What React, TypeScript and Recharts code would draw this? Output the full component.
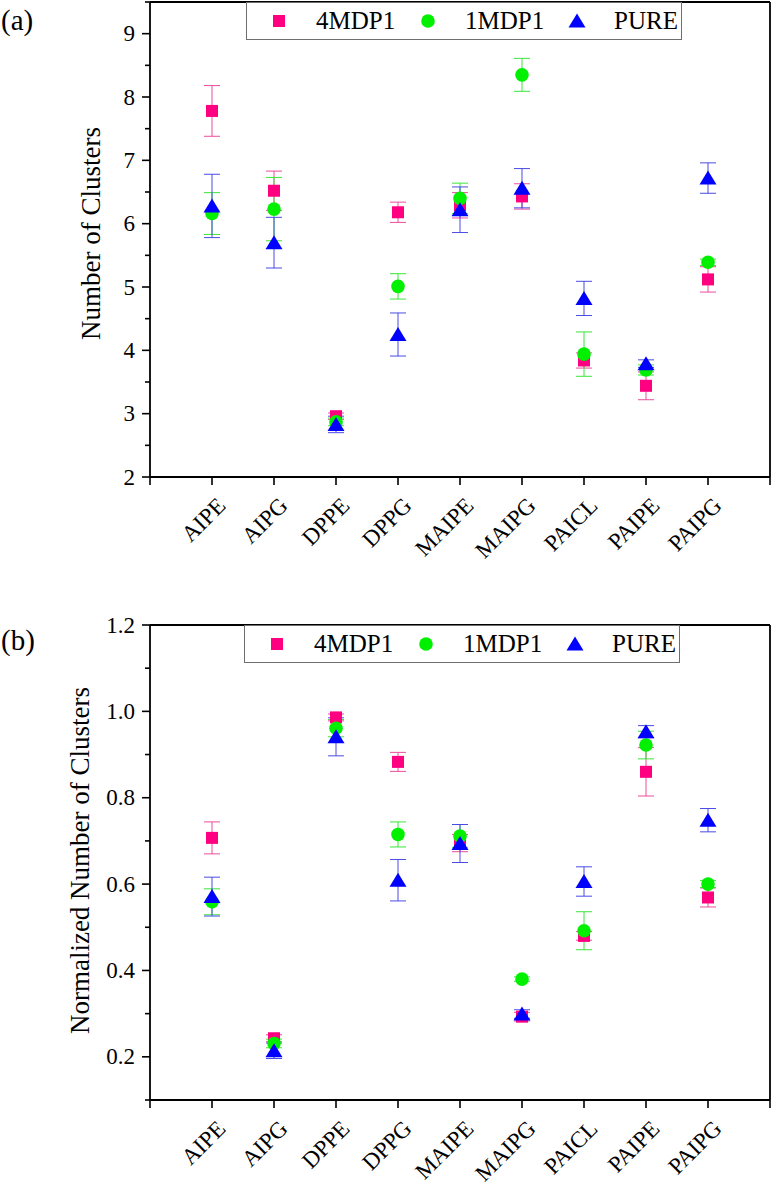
import React from 'react';
import {
  ScatterChart,
  Scatter,
  XAxis,
  YAxis,
  ErrorBar,
  ReferenceLine,
  Legend,
} from 'recharts';

const FONT = '"Liberation Serif", "Times New Roman", serif';

// Lipid systems along the x axis
const categories = ['AIPE', 'AIPG', 'DPPE', 'DPPG', 'MAIPE', 'MAIPG', 'PAICL', 'PAIPE', 'PAIPG'];
const xTicks = [0, 1, 2, 3, 4, 5, 6, 7, 8, 9, 10];

// Panel (a): number of clusters (mean and error)
const mdp4Counts = [7.78, 6.52, 2.96, 6.18, 6.29, 6.43, 3.84, 3.44, 5.12];
const mdp4CountErr = [0.4, 0.31, 0.05, 0.16, 0.2, 0.2, 0.12, 0.22, 0.2];
const mdp1Counts = [6.16, 6.23, 2.87, 5.01, 6.4, 8.35, 3.94, 3.69, 5.39];
const mdp1CountErr = [0.33, 0.5, 0.06, 0.2, 0.24, 0.26, 0.35, 0.08, 0.05];
const pureCounts = [6.28, 5.7, 2.83, 4.25, 6.22, 6.56, 4.82, 3.79, 6.72];
const pureCountErr = [0.5, 0.4, 0.13, 0.34, 0.36, 0.31, 0.27, 0.06, 0.24];
const countTicks = [2, 2.5, 3, 3.5, 4, 4.5, 5, 5.5, 6, 6.5, 7, 7.5, 8, 8.5, 9, 9.5];

// Panel (b): normalized number of clusters (mean and error)
const mdp4Norm = [0.707, 0.243, 0.986, 0.883, 0.695, 0.293, 0.48, 0.86, 0.569];
const mdp4NormErr = [0.037, 0.008, 0.008, 0.022, 0.02, 0.01, 0.01, 0.056, 0.022];
const mdp1Norm = [0.559, 0.231, 0.961, 0.715, 0.711, 0.38, 0.492, 0.922, 0.6];
const mdp1NormErr = [0.03, 0.01, 0.02, 0.029, 0.027, 0.005, 0.044, 0.032, 0.008];
const pureNorm = [0.571, 0.214, 0.941, 0.609, 0.694, 0.299, 0.606, 0.953, 0.748];
const pureNormErr = [0.045, 0.018, 0.044, 0.048, 0.044, 0.01, 0.034, 0.014, 0.027];
const normTicks = [0.1, 0.2, 0.3, 0.4, 0.5, 0.6, 0.7, 0.8, 0.9, 1.0, 1.1, 1.2];

const SERIES = [
  { name: '4MDP1', color: '#FF0080', errColor: '#EE4C9C', legendType: 'square' },
  { name: '1MDP1', color: '#00F000', errColor: '#3AE63A', legendType: 'circle' },
  { name: 'PURE', color: '#0000FF', errColor: '#4B4BE6', legendType: 'triangle' },
] as const;

const toRows = (values: number[], errs: number[]) =>
  categories.map((c, i) => ({ x: i + 1, y: values[i], err: errs[i], name: c }));

const drawMarker = (type: string, cx: number, cy: number, color: string) => {
  if (type === 'square') {
    return <rect x={cx - 6} y={cy - 6} width={12} height={12} fill={color} />;
  }
  if (type === 'circle') {
    return <circle cx={cx} cy={cy} r={6.8} fill={color} />;
  }
  return (
    <polygon
      points={`${cx},${cy - 7.5} ${cx + 8.5},${cy + 6.5} ${cx - 8.5},${cy + 6.5}`}
      fill={color}
    />
  );
};

const markerShape = (type: string, color: string) => (props: any) => {
  if (props.cx == null || props.cy == null) return <g />;
  return drawMarker(type, props.cx, props.cy, color);
};

// Legend keeps the series order 4MDP1, 1MDP1, PURE
const LegendBox = () => (
  <div
    style={{
      width: 436,
      height: 38,
      boxSizing: 'border-box',
      border: '1px solid #6E6E6E',
      background: '#fff',
      position: 'relative',
      fontFamily: FONT,
      fontSize: 25,
      color: '#000',
    }}
  >
    {SERIES.map((s, i) => (
      <div
        key={s.name}
        style={{
          position: 'absolute',
          left: i * 149,
          top: 0,
          height: 36,
          display: 'flex',
          alignItems: 'center',
          whiteSpace: 'nowrap',
        }}
      >
        <svg width={18} height={18} style={{ marginLeft: 23, display: 'block' }}>
          {drawMarker(s.legendType, 9, 9, s.color)}
        </svg>
        <span style={{ marginLeft: 28, lineHeight: '36px' }}>{s.name}</span>
      </div>
    ))}
  </div>
);

const XTick = (props: any) => {
  const { x, y, payload } = props;
  const name = categories[payload.value - 1];
  if (!name) return <g />;
  const ax = x + 15;
  const ay = y + 22;
  return (
    <text
      x={ax}
      y={ay}
      transform={`rotate(-45 ${ax} ${ay})`}
      textAnchor="end"
      fontSize={23}
      fontFamily={FONT}
      fill="#000"
    >
      {name}
    </text>
  );
};

const makeYTick = (isMajor: (v: number) => boolean, fmt: (v: number) => string) => (props: any) => {
  const { x, y, payload } = props;
  const axisX = x + 15;
  const major = isMajor(payload.value);
  const len = major ? 8 : 5;
  return (
    <g>
      <line x1={axisX - len} x2={axisX} y1={y} y2={y} stroke="#000" strokeWidth={1.6} />
      {major && (
        <text
          x={x}
          y={y}
          textAnchor="end"
          dominantBaseline="central"
          fontSize={23}
          fontFamily={FONT}
          fill="#000"
        >
          {fmt(payload.value)}
        </text>
      )}
    </g>
  );
};

const axisTitle = (text: string, shiftX: number, shiftY: number) => (props: any) => {
  const vb = props.viewBox || { x: 0, y: 0, width: 0, height: 0 };
  const cx = vb.x + shiftX;
  const cy = vb.y + vb.height / 2 + shiftY;
  return (
    <text
      x={cx}
      y={cy}
      transform={`rotate(-90 ${cx} ${cy})`}
      textAnchor="middle"
      dominantBaseline="central"
      fontSize={27}
      fontFamily={FONT}
      fill="#000"
    >
      {text}
    </text>
  );
};

type PanelProps = {
  height: number;
  margin: { top: number; right: number; bottom: number; left: number };
  domain: [number, number];
  ticks: number[];
  isMajor: (v: number) => boolean;
  fmt: (v: number) => string;
  title: string;
  titleShiftX: number;
  titleShiftY: number;
  series: { values: number[]; errs: number[] }[];
  legendTop: number;
  legendLeft: number;
};

const Panel = (p: PanelProps) => (
  <ScatterChart width={774} height={p.height} margin={p.margin} style={{ fontFamily: FONT }}>
    <XAxis
      type="number"
      dataKey="x"
      domain={[0, 10]}
      ticks={xTicks}
      interval={0}
      height={80}
      tickSize={8}
      tickMargin={0}
      axisLine={{ stroke: '#000', strokeWidth: 1.8 }}
      tickLine={{ stroke: '#000', strokeWidth: 1.6 }}
      tick={<XTick />}
      allowDecimals={false}
    />
    <YAxis
      type="number"
      dataKey="y"
      domain={p.domain}
      ticks={p.ticks}
      interval={0}
      width={60}
      tickSize={8}
      tickMargin={7}
      axisLine={{ stroke: '#000', strokeWidth: 1.8 }}
      tickLine={false}
      tick={makeYTick(p.isMajor, p.fmt)}
      label={axisTitle(p.title, p.titleShiftX, p.titleShiftY)}
    />
    <ReferenceLine y={p.domain[1]} stroke="#000" strokeWidth={1.8} />
    <ReferenceLine x={10} stroke="#000" strokeWidth={1.8} />
    {SERIES.map((s, i) => (
      <Scatter
        key={s.name}
        name={s.name}
        data={toRows(p.series[i].values, p.series[i].errs)}
        fill={s.color}
        legendType={s.legendType}
        shape={markerShape(s.legendType, s.color)}
        isAnimationActive={false}
      >
        <ErrorBar dataKey="err" direction="y" width={8} stroke={s.errColor} strokeWidth={1} />
      </Scatter>
    ))}
    <Legend
      layout="horizontal"
      verticalAlign="middle"
      align="center"
      width={436}
      height={38}
      wrapperStyle={{ left: p.legendLeft, top: p.legendTop, width: 436, height: 38 }}
      content={<LegendBox />}
    />
  </ScatterChart>
);

const panelLabel = (text: string, top: number) => (
  <div
    style={{
      position: 'absolute',
      left: 1,
      top,
      fontFamily: FONT,
      fontSize: 29,
      lineHeight: '34px',
      color: '#000',
    }}
  >
    {text}
  </div>
);

export default function App() {
  return (
    <div
      style={{
        position: 'absolute',
        left: 0,
        top: 0,
        width: 774,
        height: 1190,
        background: '#fff',
        overflow: 'hidden',
      }}
    >
      <div style={{ position: 'absolute', left: 0, top: 0 }}>
        <Panel
          height={590}
          margin={{ top: 2, right: 4, bottom: 33, left: 90 }}
          domain={[2, 9.5]}
          ticks={countTicks}
          isMajor={(v) => Number.isInteger(v)}
          fmt={(v) => String(v)}
          title="Number of Clusters"
          titleShiftX={1}
          titleShiftY={-6}
          series={[
            { values: mdp4Counts, errs: mdp4CountErr },
            { values: mdp1Counts, errs: mdp1CountErr },
            { values: pureCounts, errs: pureCountErr },
          ]}
          legendLeft={246}
          legendTop={2}
        />
      </div>
      <div style={{ position: 'absolute', left: 0, top: 590 }}>
        <Panel
          height={600}
          margin={{ top: 35, right: 4, bottom: 10, left: 90 }}
          domain={[0.1, 1.2]}
          ticks={normTicks}
          isMajor={(v) => Math.round(v * 10) % 2 === 0}
          fmt={(v) => v.toFixed(1)}
          title="Normalized Number of Clusters"
          titleShiftX={-10}
          titleShiftY={-2}
          series={[
            { values: mdp4Norm, errs: mdp4NormErr },
            { values: mdp1Norm, errs: mdp1NormErr },
            { values: pureNorm, errs: pureNormErr },
          ]}
          legendLeft={244}
          legendTop={35}
        />
      </div>
      {panelLabel('(a)', 3)}
      {panelLabel('(b)', 623)}
    </div>
  );
}
